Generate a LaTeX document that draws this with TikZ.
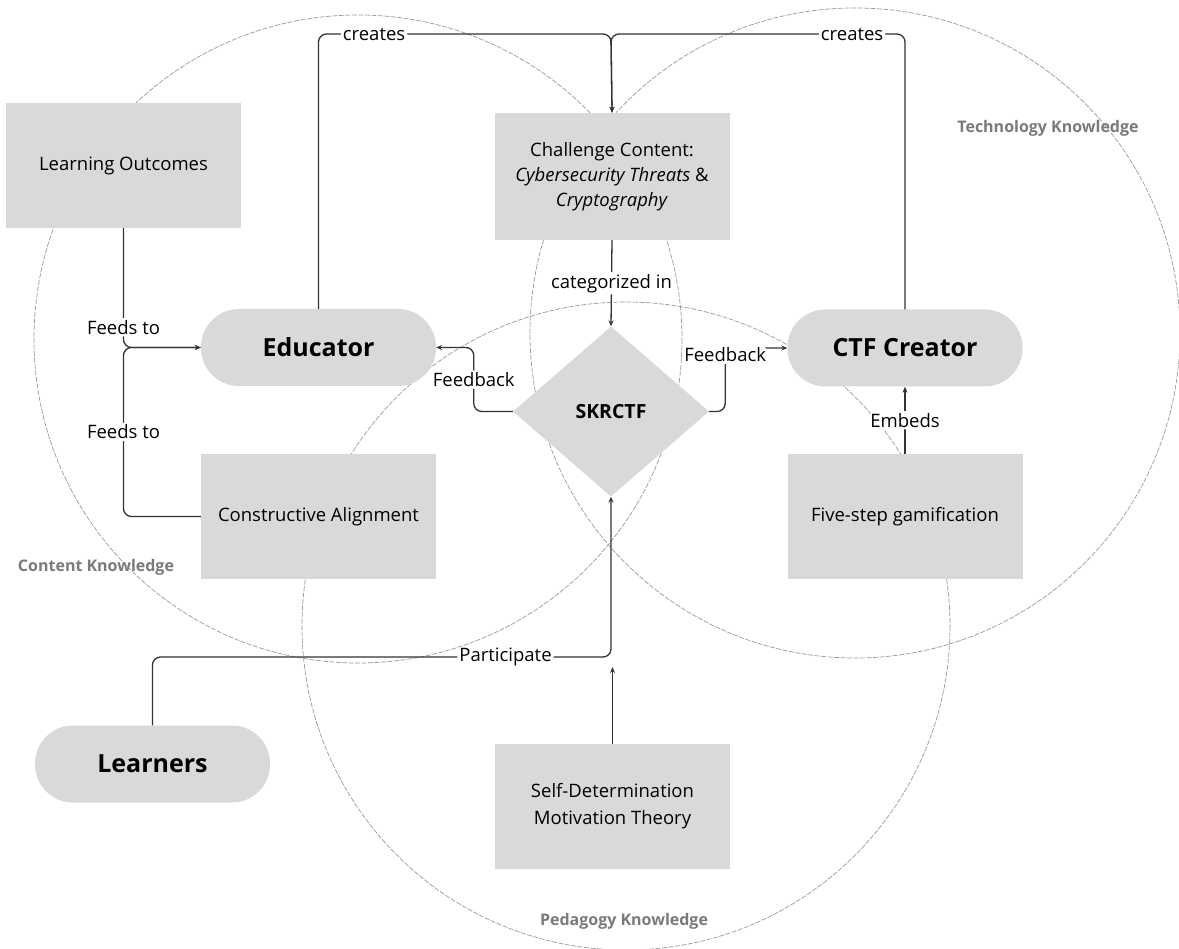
\documentclass[tikz,border=0pt]{standalone}
\usepackage{fontspec}
\setmainfont{Open Sans}
\usetikzlibrary{shapes.geometric,arrows.meta}
\definecolor{boxgray}{HTML}{D9D9D9}
\definecolor{linegray}{HTML}{333333}
\definecolor{ringgray}{HTML}{9A9A9A}
\definecolor{knowgray}{HTML}{7A7A7A}

\begin{document}
\begin{tikzpicture}[x=1pt,y=-1pt,
    ring/.style={draw=ringgray,line width=0.7pt,dash pattern=on 5pt off 1.5pt},
    knowlabel/.style={text=knowgray,font=\fontsize{16}{19}\selectfont\bfseries},
    box/.style={fill=boxgray,minimum width=235pt,minimum height=125pt,align=center,font=\fontsize{18.5}{25}\selectfont},
    pill/.style={fill=boxgray,rounded corners=38pt,minimum width=235pt,minimum height=77pt,font=\fontsize{25}{30}\selectfont\bfseries},
    conn/.style={draw=linegray,line width=1.3pt,rounded corners=8pt,-{Stealth[length=6pt,width=5pt]}},
    lbl/.style={fill=white,inner sep=2pt,font=\fontsize{18.5}{22}\selectfont}]
      \useasboundingbox (0,0) rectangle (1179,949);

      \draw [ring] (358,339) circle (324);
      \draw [ring] (855,333) circle (325);
      \draw [ring] (626,626) circle (324);
      \node [knowlabel] (tk) at (1048,128) {Technology Knowledge};
      \node [knowlabel] (ck) at (96,567) {Content Knowledge};
      \node [knowlabel] (pk) at (624,921) {Pedagogy Knowledge};

      \node [box] (lo) at (123.5,165.5) {Learning Outcomes};
      \node [box,minimum height=127pt] (chal) at (612,176.5) {Challenge Content:\\\textit{Cybersecurity Threats} \&\\\textit{Cryptography}};
      \node [pill] (edu) at (318.5,347.5) {Educator};
      \node [pill] (ctf) at (905,348) {CTF Creator};
      \node [diamond,fill=boxgray,minimum width=196pt,minimum height=170pt,inner sep=0pt,font=\fontsize{19.5}{22}\selectfont\bfseries] (skr) at (611,411.5) {SKRCTF};
      \node [box] (ca) at (318.5,516.5) {Constructive Alignment};
      \node [box] (fsg) at (905,516.5) {Five-step gamification};
      \node [pill] (lrn) at (152.5,764) {Learners};
      \node [box,font=\fontsize{18.5}{27}\selectfont] (sdmt) at (612.5,806.5) {Self-Determination\\Motivation Theory};

      \coordinate (ctop) at (611,34);
      \coordinate (fjoin) at (123.5,347.5);
      \coordinate (pjoin) at (611,657);
      \coordinate (sdend) at (612.5,667);

      \draw [conn] (edu.north) |- node [lbl,pos=0.595] {creates} (ctop) -- (chal.north);
      \draw [conn] (ctf.north) |- node [lbl,pos=0.59] {creates} (ctop) -- (chal.north);
      \draw [conn] (chal.south) -- node [lbl] {categorized in} (skr.north);
      \draw [conn] (skr.west) -- ++(-39,0) |- node [lbl,pos=0.25] {Feedback} (edu.east);
      \draw [conn] (skr.east) -- ++(16,0) |- node [lbl,pos=0.445] {Feedback} (ctf.west);
      \draw [conn] (lo.south) -- node [lbl,pos=0.83] {Feeds to} (fjoin) -- (edu.west);
      \draw [conn] (ca.west) -| node [lbl,pos=0.75] {Feeds to} (fjoin) -- (edu.west);
      \draw [conn] (lrn.north) |- node [lbl,pos=0.885] {Participate} (pjoin) -- (skr.south);
      \draw [conn] (sdmt.north) -- (sdend);
      \draw [conn] (fsg.north) -- node [lbl] {Embeds} (ctf.south);
    \end{tikzpicture}
\end{document}
